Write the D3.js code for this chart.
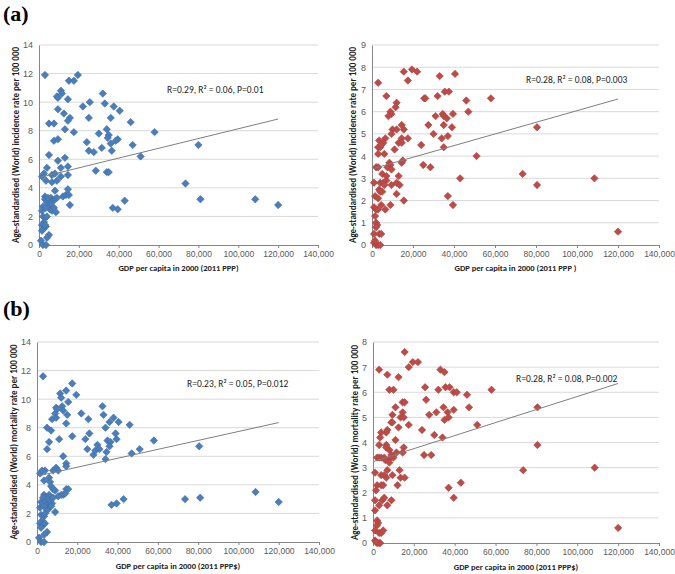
<!DOCTYPE html>
<html>
<head>
<meta charset="utf-8">
<script src="https://cdn.jsdelivr.net/npm/d3@7"></script>
<style>
  body { margin: 0; background: #fff; }
  svg { display: block; font-family: Carlito, Lato, "Open Sans", sans-serif; }
</style>
</head>
<body>
<svg id="chart" width="675" height="574"></svg>
<script>
// GDP per capita ticks
var gdpTicks = [0, 20000, 40000, 60000, 80000, 100000, 120000, 140000];

// (a) incidence, left panel  [gdp, rate]
var incidenceLeft = [
  [3000,11.9],[19500,11.9],[15000,11.5],[17500,11.5],[11000,10.8],[11500,10.6],[9000,10.4],[9500,10.3],
  [14500,10.2],[32000,10.6],[25500,10.0],[33000,9.9],[22000,9.7],[37500,9.7],[40500,9.4],[9500,9.5],
  [12500,9.2],[15500,8.9],[14500,8.7],[25000,8.9],[36000,8.9],[5000,8.5],[7500,8.5],[13000,8.1],
  [34000,8.1],[46000,8.6],[58000,7.9],[17500,7.9],[30000,7.8],[35000,7.7],[34500,7.5],[39500,7.4],
  [38500,7.3],[7500,7.3],[9500,7.4],[24000,7.2],[36000,7.1],[47000,7.0],[80000,7.0],[25000,6.6],
  [27500,6.5],[31500,6.8],[36500,6.6],[5000,6.3],[13000,6.1],[51000,6.2],[9500,5.9],[4000,5.4],
  [11000,5.4],[14500,5.5],[28500,5.2],[34000,5.1],[35000,5.1],[1500,4.8],[2500,5.0],[6500,4.9],
  [8000,5.0],[3500,4.5],[6500,4.4],[9000,4.5],[11000,4.8],[14500,4.9],[73500,4.3],[14500,3.9],
  [8000,3.8],[3000,3.4],[12000,3.4],[13500,3.5],[15000,3.5],[2000,2.7],[3000,3.2],[4000,3.0],
  [5000,2.8],[6000,3.3],[7000,3.1],[5500,2.5],[6500,2.4],[7500,2.6],[8500,2.3],[1500,2.4],
  [3500,2.6],[4500,3.3],[8000,3.2],[9000,3.3],[6000,2.9],[15500,2.8],[37000,2.6],[39500,2.5],
  [43000,3.1],[81000,3.2],[108500,3.2],[120000,2.8],[2000,2.0],[3000,1.9],[4000,2.0],[2500,1.6],
  [1500,1.4],[3500,1.3],[2000,1.1],[3000,1.4],[1500,1.0],[5000,0.7],[4000,0.5],[1000,0.3],
  [2000,0.0],[3500,0.0]
];

// (a) incidence, right panel
var incidenceRight = [
  [3000,7.3],[15500,7.8],[19500,7.9],[22000,7.8],[17500,7.4],[33000,7.6],[40500,7.7],[7000,6.7],
  [32000,6.7],[35500,6.9],[37500,6.9],[25500,6.6],[26000,6.6],[46000,6.5],[58000,6.6],[12000,6.4],
  [11500,6.2],[9000,6.0],[9500,5.9],[8000,5.8],[31000,5.8],[34500,5.9],[35000,5.8],[36500,5.7],
  [39500,5.9],[47000,6.0],[10000,5.2],[14500,5.4],[15500,5.2],[12000,5.2],[9500,5.0],[27500,5.4],
  [35000,5.4],[39000,5.3],[80500,5.3],[6500,4.8],[14500,4.8],[17500,4.8],[30000,5.0],[34000,4.8],
  [37000,4.9],[5500,4.6],[3000,4.4],[4000,4.4],[3500,4.7],[4500,4.5],[6000,4.1],[3000,4.1],
  [13000,4.6],[14500,4.6],[11000,4.3],[24000,4.5],[35000,4.4],[51000,4.0],[8500,3.7],[9000,3.6],
  [7500,3.5],[9500,3.4],[14500,3.7],[15000,3.8],[2000,3.5],[3000,3.5],[25000,3.6],[28500,3.5],
  [5000,3.2],[7000,3.1],[13000,3.1],[4000,2.8],[5500,2.8],[7000,2.9],[1000,2.8],[12000,2.8],
  [13500,2.7],[9500,2.7],[6000,2.7],[73500,3.2],[108500,3.0],[43000,3.0],[80500,2.7],[3500,2.5],
  [4000,2.4],[5000,2.4],[12000,2.3],[1500,2.2],[3000,2.1],[37000,2.2],[15500,2.0],[9000,1.8],
  [4500,1.8],[1000,1.7],[2000,1.6],[3000,1.6],[6500,1.6],[39500,1.8],[1500,1.3],[2000,1.0],
  [2500,0.9],[2000,0.8],[1000,0.5],[3500,0.5],[4500,0.5],[1000,0.1],[2000,0.0],[3000,0.0],
  [4000,0.0],[1500,0.2],[120000,0.6]
];

// (b) mortality, left panel
var mortalityLeft = [
  [3000,11.6],[17500,11.1],[19500,10.3],[11500,10.4],[12000,10.1],[14500,10.6],[15500,9.8],[9500,9.4],
  [10000,9.3],[12500,9.5],[13000,9.2],[9000,9.0],[15000,8.9],[7500,8.6],[9500,8.7],[5000,8.0],
  [7000,7.8],[14500,8.3],[17500,7.4],[22000,9.0],[25500,8.6],[32500,9.5],[33000,8.9],[38000,8.7],
  [36000,8.4],[40500,8.4],[46000,8.2],[34000,8.0],[24000,7.2],[26000,7.6],[39000,7.6],[39500,7.2],
  [35000,7.1],[36500,7.0],[58000,7.1],[6000,7.0],[11000,7.2],[25000,6.5],[28000,6.1],[29000,6.4],
  [30000,6.8],[31000,6.5],[34500,6.3],[36000,6.7],[47000,6.2],[51000,6.5],[80500,6.7],[5000,6.5],
  [13000,6.0],[34000,5.8],[14500,5.5],[14500,5.3],[9500,5.2],[10500,5.0],[8000,5.0],[4000,5.0],
  [1500,4.8],[2500,5.0],[6000,4.5],[6500,4.2],[3500,4.3],[7000,3.9],[8000,3.7],[9000,3.6],
  [14500,3.7],[15500,3.7],[13000,3.3],[12000,3.3],[14000,3.4],[3500,3.3],[4500,3.0],[6000,3.3],
  [10500,3.2],[2000,2.8],[3000,3.1],[4000,2.8],[5000,2.6],[5500,3.0],[6500,2.9],[7500,2.7],
  [6000,2.4],[7000,2.5],[1500,2.4],[3500,2.5],[8000,3.1],[9000,2.1],[5000,2.2],[37000,2.6],
  [39500,2.7],[43000,3.0],[73500,3.0],[81000,3.1],[108500,3.5],[120000,2.8],[2000,1.9],[3500,1.8],
  [4000,2.0],[2500,1.5],[1500,1.3],[3000,1.2],[2000,1.0],[4000,1.3],[5000,0.7],[3500,0.5],
  [1000,0.3],[2000,0.0],[3500,0.0]
];

// (b) mortality, right panel
var mortalityRight = [
  [15500,7.6],[19500,7.2],[22000,7.2],[17500,7.0],[3000,6.9],[7000,6.7],[12500,6.6],[33000,6.9],
  [35000,6.8],[8000,6.1],[10000,6.1],[32000,6.1],[35500,6.2],[37500,6.2],[39500,6.0],[41000,6.0],
  [46000,5.9],[58000,6.1],[25500,6.2],[26000,5.7],[14500,5.6],[15500,5.6],[11000,5.4],[34500,5.4],
  [47000,5.4],[80500,5.4],[39500,5.3],[36500,5.2],[14500,5.2],[31000,5.2],[27500,5.1],[9500,5.1],
  [37000,5.0],[35000,4.9],[13500,5.0],[15000,5.0],[9000,4.8],[9500,4.8],[17500,4.7],[51000,4.7],
  [12500,4.6],[24000,4.5],[7000,4.5],[6500,4.4],[4000,4.4],[3500,4.2],[30000,4.3],[34000,4.2],
  [11000,4.1],[3000,3.9],[6500,3.9],[6500,3.8],[15000,3.8],[80500,3.9],[8000,3.7],[11500,3.6],
  [14500,3.6],[25000,3.5],[28500,3.5],[9000,3.5],[7500,3.3],[2000,3.4],[3000,3.4],[4000,3.4],
  [5500,3.4],[6000,3.3],[8000,3.2],[10000,3.4],[1000,2.8],[4000,2.7],[5500,2.7],[6500,2.6],
  [7000,2.9],[9500,2.7],[13000,2.9],[13500,2.6],[15500,2.6],[73500,2.9],[108500,3.0],[2000,2.3],
  [1500,2.1],[4000,2.3],[5000,2.3],[12000,2.3],[37000,2.2],[43000,2.4],[39500,1.8],[1000,1.7],
  [3000,1.5],[4500,1.7],[5500,1.8],[7000,1.5],[9000,1.7],[1000,1.3],[2000,0.9],[2500,0.8],
  [2000,0.7],[1000,0.5],[3000,0.4],[4000,0.4],[5000,0.5],[1000,0.1],[2000,0.0],[3000,0.0],
  [3500,0.0],[1500,0.05],[120000,0.6]
];

// linear trend end points [gdp, rate]
var trendIncLeft  = [[1000, 4.75], [120000, 8.82]];
var trendIncRight = [[1000, 3.45], [120000, 6.57]];
var trendMortLeft = [[1000, 4.64], [120000, 8.36]];
var trendMortRight = [[500, 3.25], [120000, 6.35]];

var statLabels = ["R=0.29, R\u00b2 = 0.06, P=0.01", "R=0.28, R\u00b2 = 0.08, P=0.003",
                  "R=0.23, R\u00b2 = 0.05, P=0.012", "R=0.28, R\u00b2 = 0.08, P=0.002"];
var yTitles = ["Age-standardised (World) incidence rate per 100 000",
               "Age-standardised (World) incidence rate per 100 000",
               "Age-standardised (World) mortality rate per 100 000",
               "Age-standardised (World) mortality rate per 100 000"];
var xTitles = ["GDP per capita in 2000 (2011 PPP)", "GDP per capita in 2000 (2011 PPP )",
               "GDP per capita in 2000 (2011 PPP$)", "GDP per capita in 2000 (2011 PPP$)"];
var yMaxes = [14, 9, 14, 8];
var yStep = [2, 1, 2, 1];

var blue = "#4a7ebb", red = "#be4b48";

var svg = d3.select("#chart");

function drawPanel(p) {
  var x = d3.scaleLinear().domain([0, 140000]).range([p.left, p.right]);
  var y = d3.scaleLinear().domain([0, p.ymax]).range([p.bottom, p.top]);
  var g = svg.append("g");
  var yt = d3.range(0, p.ymax + 0.001, p.step);

  // gridlines
  g.selectAll("line.grid").data(yt.filter(function(d) { return d > 0; })).enter()
    .append("line")
    .attr("x1", p.left).attr("x2", p.right)
    .attr("y1", function(d) { return y(d); }).attr("y2", function(d) { return y(d); })
    .attr("stroke", "#d9d9d9").attr("stroke-width", 1);

  // y axis
  var ya = g.append("g").attr("transform", "translate(" + p.left + ",0)")
    .call(d3.axisLeft(y).tickValues(yt).tickSize(0).tickPadding(6).tickFormat(d3.format("d")));
  ya.select(".domain").attr("stroke", "#868686");
  ya.selectAll("text").attr("fill", "#595959").style("font-size", "9px");

  // x axis
  var xa = g.append("g").attr("transform", "translate(0," + p.bottom + ")")
    .call(d3.axisBottom(x).tickValues(gdpTicks).tickSize(3).tickPadding(3).tickFormat(d3.format(",")));
  xa.select(".domain").attr("stroke", "#868686");
  xa.selectAll("line").attr("stroke", "#868686");
  xa.selectAll("text").attr("fill", "#595959").style("font-size", "8.5px");

  // points
  var diamond = "M0,-3.7L3.7,0L0,3.7L-3.7,0Z";
  g.selectAll("path.pt").data(p.data).enter().append("path")
    .attr("d", diamond)
    .attr("transform", function(d) { return "translate(" + x(d[0]) + "," + y(d[1]) + ")"; })
    .attr("fill", p.color)
    .attr("stroke", d3.color(p.color).darker(0.4))
    .attr("stroke-width", 0.6);

  // trend line
  g.append("path").datum(p.trend)
    .attr("d", d3.line().x(function(d) { return x(d[0]); }).y(function(d) { return y(d[1]); }))
    .attr("stroke", "#7f7f7f").attr("stroke-width", 1).attr("fill", "none");

  // stats text
  g.append("text").attr("x", p.statX).attr("y", p.statY)
    .style("font-size", "9.5px").attr("fill", "#222").text(p.stat);

  // titles
  g.append("text").attr("x", (p.left + p.right) / 2).attr("y", p.xTitleY)
    .attr("text-anchor", "middle").style("font-size", "8.5px").style("font-weight", "bold")
    .attr("fill", "#222").text(p.xTitle);
  g.append("text")
    .attr("transform", "translate(" + p.yTitleX + "," + (p.top + p.bottom) / 2 + ") rotate(-90)")
    .attr("text-anchor", "middle").style("font-size", "9px").style("font-weight", "bold")
    .attr("fill", "#222").text(p.yTitle);
}

var panels = [
  {data: incidenceLeft, trend: trendIncLeft, color: blue, left: 39, right: 318, top: 45, bottom: 245,
   statX: 167, statY: 93, xTitleY: 271, yTitleX: 19},
  {data: incidenceRight, trend: trendIncRight, color: red, left: 372, right: 659, top: 45, bottom: 245,
   statX: 526, statY: 83, xTitleY: 271, yTitleX: 356},
  {data: mortalityLeft, trend: trendMortLeft, color: blue, left: 37, right: 319, top: 342, bottom: 542,
   statX: 187, statY: 387, xTitleY: 569, yTitleX: 17},
  {data: mortalityRight, trend: trendMortRight, color: red, left: 373, right: 659, top: 342, bottom: 543,
   statX: 516, statY: 382, xTitleY: 570, yTitleX: 358}
];

panels.forEach(function(p, i) {
  p.stat = statLabels[i];
  p.xTitle = xTitles[i];
  p.yTitle = yTitles[i];
  p.ymax = yMaxes[i];
  p.step = yStep[i];
  drawPanel(p);
});

// panel letters
svg.append("text").attr("x", 3).attr("y", 21).text("(a)")
  .style("font-family", "'Times New Roman', 'Liberation Serif', serif")
  .style("font-size", "22px").style("font-weight", "bold");
svg.append("text").attr("x", 3).attr("y", 316).text("(b)")
  .style("font-family", "'Times New Roman', 'Liberation Serif', serif")
  .style("font-size", "22px").style("font-weight", "bold");
</script>
</body>
</html>
